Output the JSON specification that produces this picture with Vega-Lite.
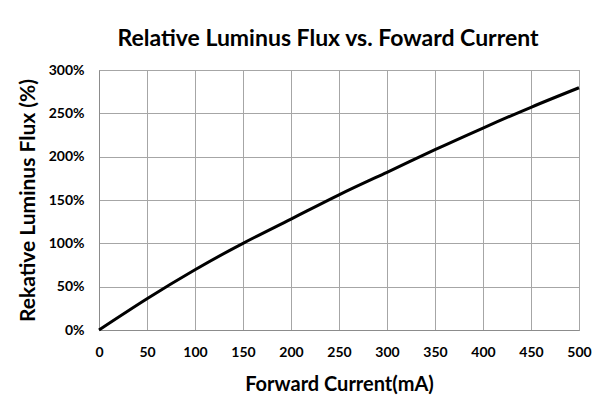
{
  "$schema": "https://vega.github.io/schema/vega-lite/v6.json",
  "width": 480,
  "height": 260,
  "autosize": {"type": "none"},
  "padding": {"left": 99, "top": 70, "right": 30, "bottom": 89},
  "background": "white",
  "title": {
    "text": "Relative Luminus Flux vs. Foward Current",
    "font": "Lato",
    "fontSize": 23,
    "fontWeight": "bold",
    "color": "#000000",
    "anchor": "middle",
    "frame": "group",
    "dx": -11,
    "offset": 12
  },
  "data": {
    "values": [
      {"current": 0, "flux": 0},
      {"current": 50, "flux": 36},
      {"current": 100, "flux": 69.5},
      {"current": 150, "flux": 100},
      {"current": 200, "flux": 128},
      {"current": 250, "flux": 156},
      {"current": 300, "flux": 182},
      {"current": 350, "flux": 208},
      {"current": 400, "flux": 233},
      {"current": 450, "flux": 257},
      {"current": 500, "flux": 279.5}
    ]
  },
  "mark": {"type": "line", "color": "#000000", "strokeWidth": 3, "interpolate": "natural"},
  "encoding": {
    "x": {
      "field": "current",
      "type": "quantitative",
      "scale": {"domain": [0, 500], "nice": false},
      "axis": {
        "values": [0, 50, 100, 150, 200, 250, 300, 350, 400, 450, 500],
        "title": "Forward Current(mA)",
        "titleFontSize": 20,
        "titlePadding": 15,
        "labelPadding": 15,
        "labelFlush": false
      }
    },
    "y": {
      "field": "flux",
      "type": "quantitative",
      "scale": {"domain": [0, 300], "nice": false},
      "axis": {
        "values": [0, 50, 100, 150, 200, 250, 300],
        "labelExpr": "datum.value + '%'",
        "title": "Rekative Luminus Flux (%)",
        "titleFontSize": 21,
        "titlePadding": 10,
        "labelPadding": 15
      }
    }
  },
  "config": {
    "view": {"stroke": "#8c8c8c", "strokeWidth": 1},
    "axis": {
      "labelFont": "Lato",
      "labelFontSize": 14,
      "labelFontWeight": "bold",
      "labelColor": "#000000",
      "titleFont": "Lato",
      "titleFontWeight": "bold",
      "titleColor": "#000000",
      "ticks": false,
      "domainColor": "#8c8c8c",
      "gridColor": "#a6a6a6",
      "gridOpacity": 1,
      "gridWidth": 1
    }
  }
}
